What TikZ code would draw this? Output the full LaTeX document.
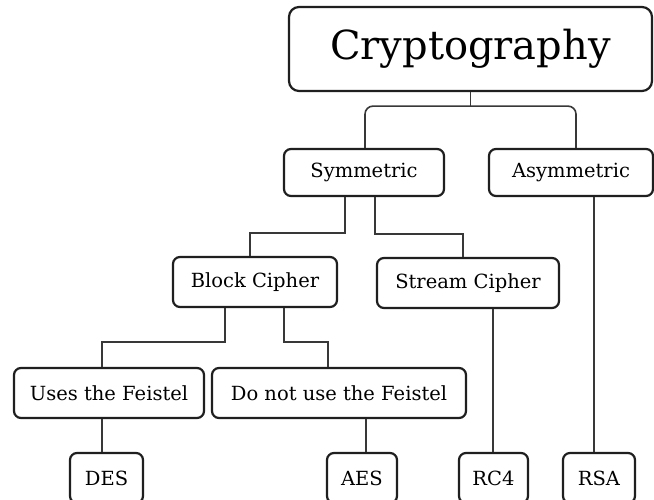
\documentclass[tikz,border=0pt]{standalone}
\usepackage{fontspec}
\setmainfont{DejaVu Serif}
\usetikzlibrary{positioning, calc}

\begin{document}
\begin{tikzpicture}[x=1pt, y=-1pt,
    box/.style={draw=black!88, line width=2.2pt, rounded corners=7pt, fill=white,
        inner sep=0pt, minimum height=50pt, font=\fontsize{19.5}{22}\selectfont},
    link/.style={draw=black!78, line width=1.6pt}]
    \useasboundingbox[fill=white] (0,0) rectangle (654,500);
    \clip (0,0) rectangle (654,500);

    \node[box, minimum width=363pt, minimum height=84pt, rounded corners=10pt,
        font=\fontsize{40}{46}\selectfont] (crypto) at (470.5,49) {Cryptography};
    \node[box, minimum width=160pt, minimum height=47pt] (sym) at (364,172.5) {Symmetric};
    \node[box, minimum width=164pt, minimum height=47pt] (asym) at (571,172.5) {Asymmetric};

    \node[box, minimum width=164pt] (block) at (255,282) {Block Cipher};
    \node[box, minimum width=182pt] (stream) at (468,283) {Stream Cipher};

    \node[box, minimum width=190pt] (uses) at (109,393) {Uses the Feistel};
    \node[box, minimum width=254pt] (donot) at (339,393) {Do not use the Feistel};

    \node[box, minimum width=73pt] (des) at (106.5,478) {DES};
    \node[box, minimum width=70pt] (aes) at (362,478) {AES};
    \node[box, minimum width=69pt] (rc4) at (493.5,478) {RC4};
    \node[box, minimum width=72pt] (rsa) at (599,478) {RSA};

    % top level
    \coordinate (bar) at ([yshift=-14pt]crypto.south);
    \draw[link] (crypto.south) -- (bar);
    \draw[link, rounded corners=8pt] ([xshift=1pt]sym.north) |- (bar) -| ([xshift=5pt]asym.north);

    % symmetric branch
    \draw[link] ([xshift=-19pt]sym.south) |- ([xshift=-5pt,yshift=23pt]block.north) -- ([xshift=-5pt]block.north);
    \draw[link] ([xshift=11pt]sym.south) |- ([xshift=-5pt,yshift=23pt]stream.north) -- ([xshift=-5pt]stream.north);

    % block cipher branch
    \draw[link] ([xshift=-30pt]block.south) |- ([xshift=-7pt,yshift=25pt]uses.north) -- ([xshift=-7pt]uses.north);
    \draw[link] ([xshift=29pt]block.south) |- ([xshift=-11pt,yshift=25pt]donot.north) -- ([xshift=-11pt]donot.north);

    % leaves
    \draw[link] ([xshift=-7pt]uses.south) -- ([xshift=-7pt]uses.south |- des.north);
    \draw[link] ([xshift=27pt]donot.south) -- ([xshift=27pt]donot.south |- aes.north);
    \draw[link] ([xshift=25pt]stream.south) -- ([xshift=25pt]stream.south |- rc4.north);
    \draw[link] ([xshift=23pt]asym.south) -- ([xshift=23pt]asym.south |- rsa.north);
\end{tikzpicture}
\end{document}
